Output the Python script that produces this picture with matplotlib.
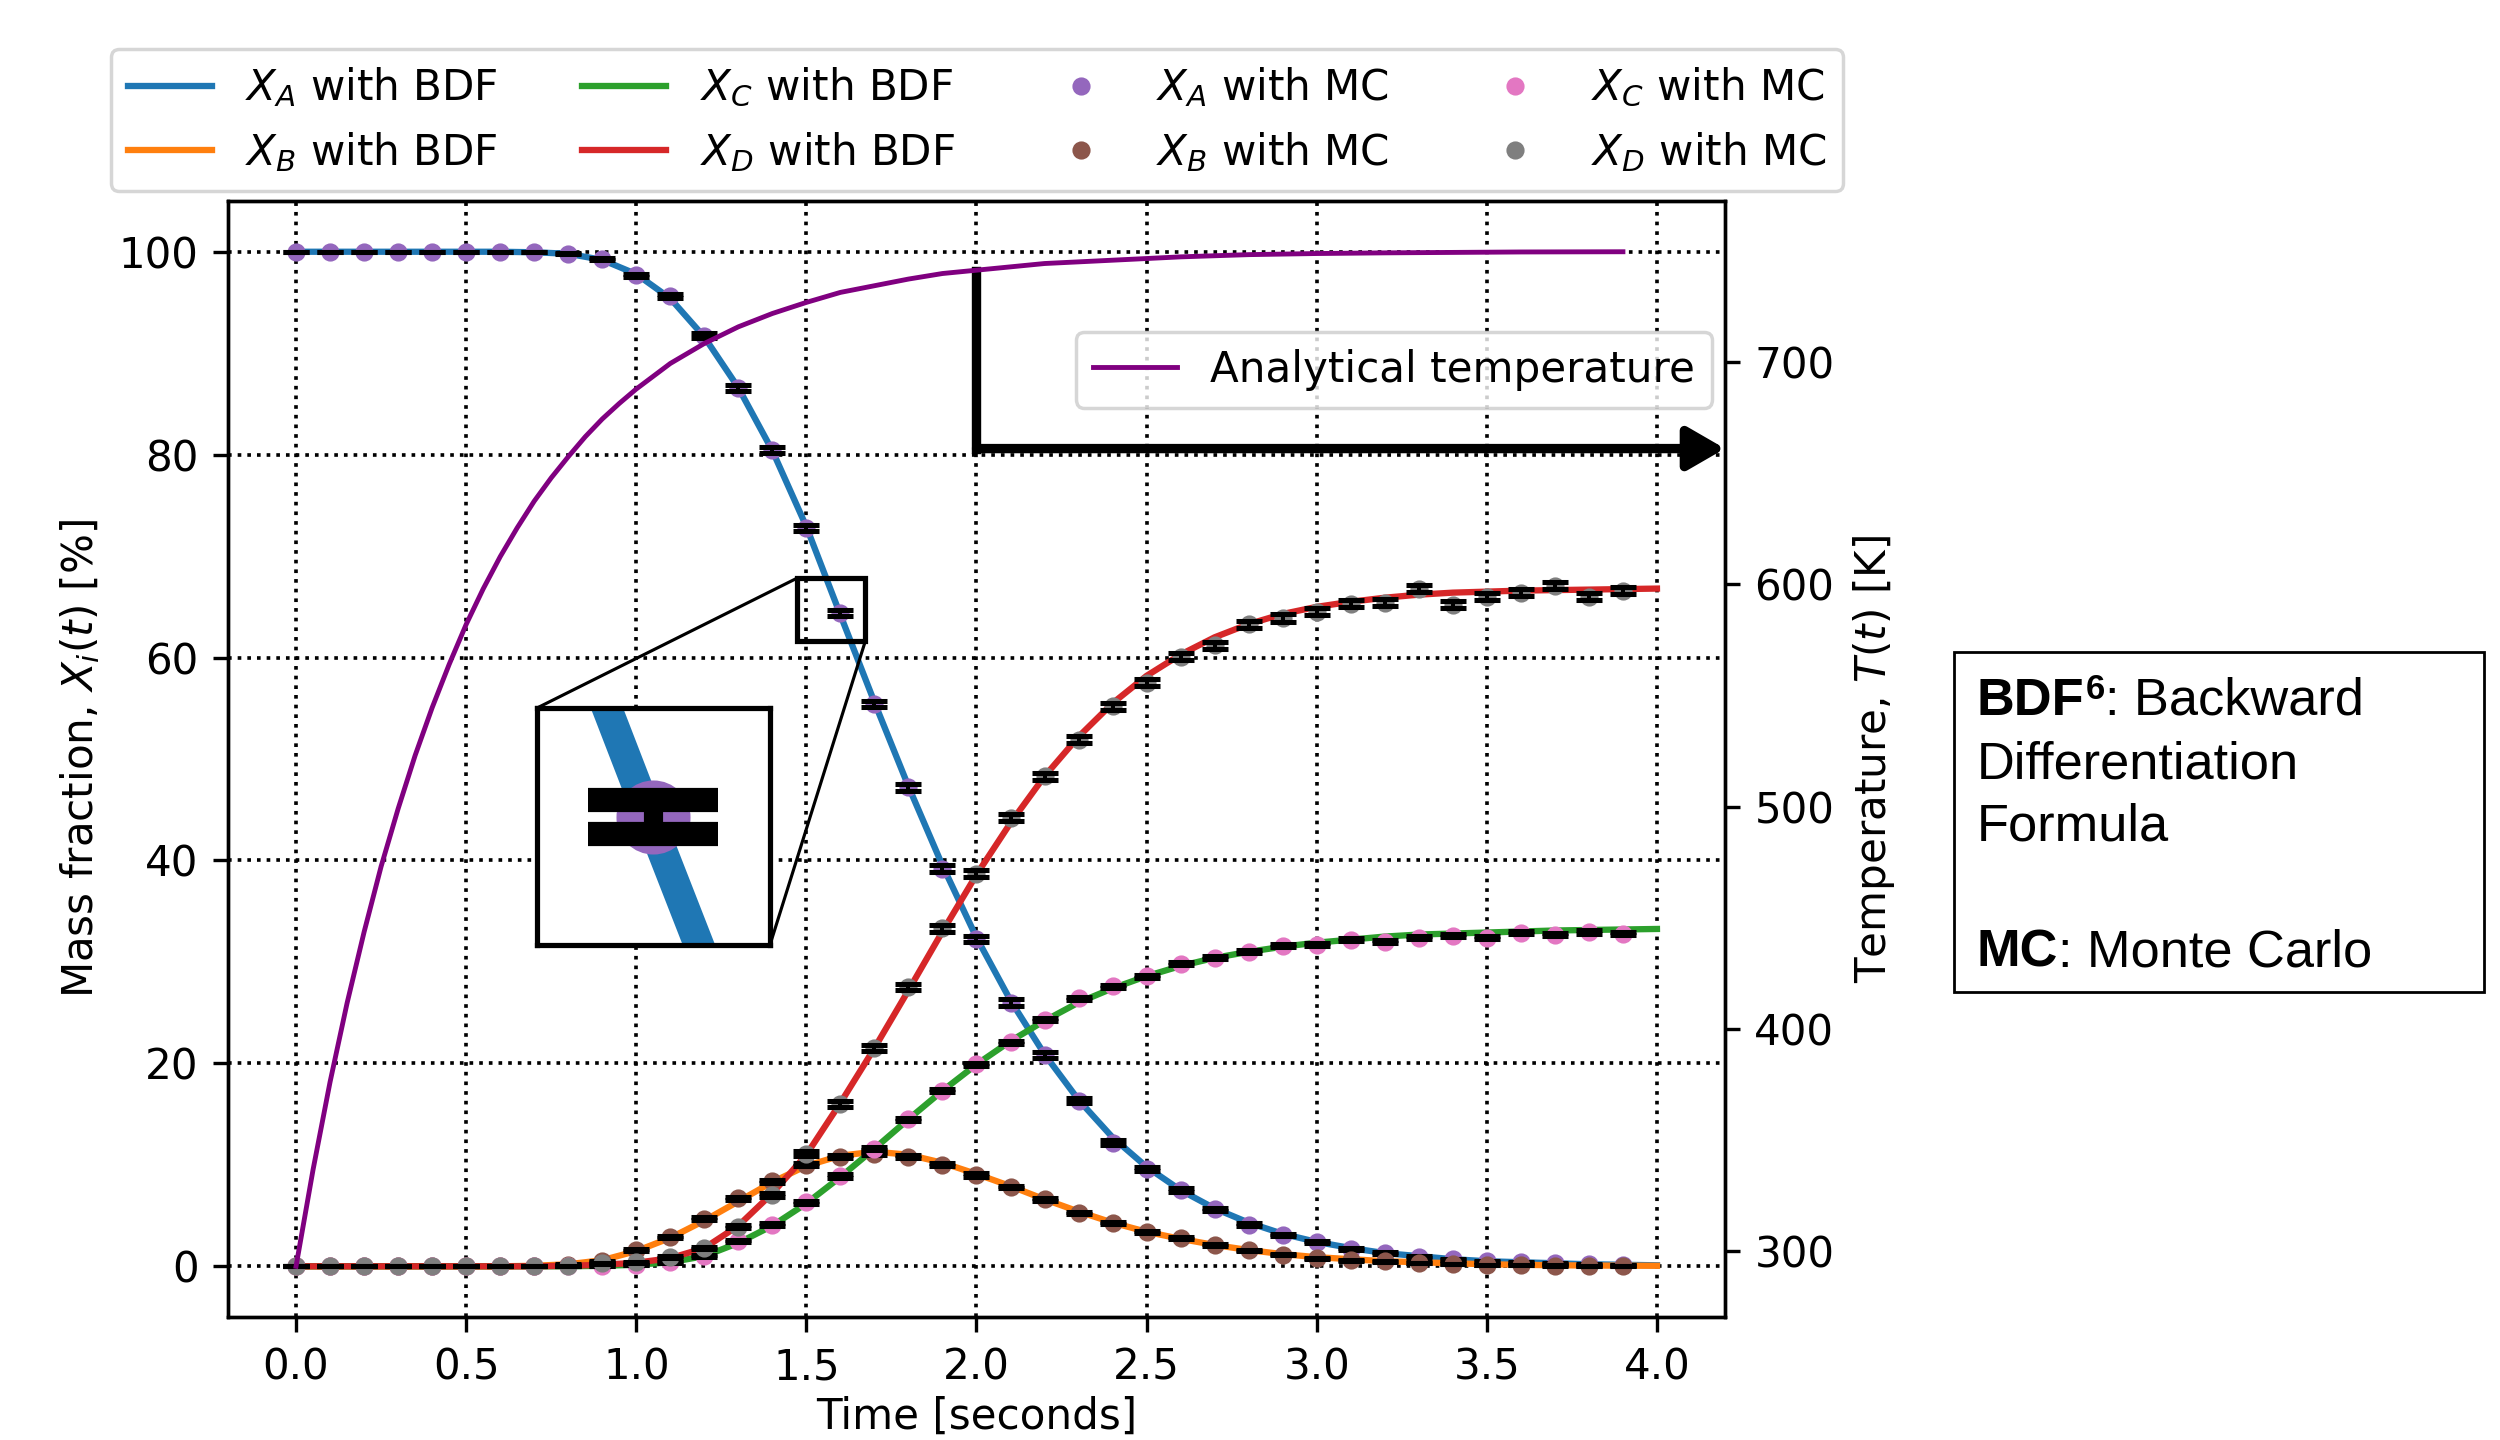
import matplotlib

matplotlib.use("Agg")
import matplotlib.pyplot as plt
from matplotlib.patches import Rectangle, ConnectionPatch

# the reference was drawn at roughly 1.21x the default sizes for dpi=250
K = 1.21
plt.rcParams.update({
    "font.size": 10 * K,
    "axes.linewidth": 0.8 * K,
    "xtick.major.size": 3.5 * K,
    "ytick.major.size": 3.5 * K,
    "xtick.major.width": 0.8 * K,
    "ytick.major.width": 0.8 * K,
    "xtick.major.pad": 3.5 * K,
    "ytick.major.pad": 3.5 * K,
    "axes.labelpad": 4.0 * K,
    "lines.linewidth": 1.5 * K,
    "legend.framealpha": 0.8,
})

# ---- data ----
t_bdf = [round(0.1 * i, 1) for i in range(41)]
t_mc = [round(0.1 * i, 1) for i in range(40)]

xa_bdf = [100, 100, 100, 100, 100, 100, 100, 99.95, 99.8, 99.2,
          97.8, 95.4, 91.6, 86.6, 80.4, 72.9, 64.2, 55.6, 47.3, 39.5,
          32.4, 26.2, 20.9, 16.4, 12.7, 9.8, 7.5, 5.7, 4.3, 3.2,
          2.4, 1.8, 1.3, 1.0, 0.7, 0.5, 0.4, 0.3, 0.2, 0.15, 0.1]
xb_bdf = [0, 0, 0, 0, 0, 0, 0, 0.05, 0.2, 0.6,
          1.5, 2.8, 4.5, 6.4, 8.3, 9.9, 10.9, 11.3, 11.0, 10.2,
          9.1, 7.9, 6.6, 5.4, 4.3, 3.4, 2.7, 2.1, 1.6, 1.2,
          0.9, 0.7, 0.5, 0.4, 0.3, 0.2, 0.15, 0.1, 0.08, 0.06, 0.05]
xc_bdf = [0, 0, 0, 0, 0, 0, 0, 0, 0, 0.05,
          0.15, 0.4, 1.0, 2.3, 4.0, 6.2, 8.8, 11.6, 14.5, 17.3,
          19.9, 22.2, 24.2, 26.0, 27.4, 28.6, 29.6, 30.4, 31.0, 31.5,
          31.9, 32.2, 32.5, 32.7, 32.8, 32.9, 33.0, 33.1, 33.15, 33.2, 33.25]
xd_bdf = [0, 0, 0, 0, 0, 0, 0, 0, 0.05, 0.15,
          0.35, 0.8, 1.8, 4.0, 7.2, 11.0, 16.1, 21.5, 27.2, 33.0,
          38.6, 43.7, 48.3, 52.2, 55.5, 58.2, 60.3, 62.0, 63.3, 64.3,
          65.0, 65.5, 65.9, 66.2, 66.4, 66.5, 66.6, 66.65, 66.7, 66.75, 66.8]

xa_mc = [100, 100, 100, 100, 100, 100, 100, 100, 99.8, 99.3,
         97.7, 95.6, 91.7, 86.6, 80.5, 72.8, 64.4, 55.4, 47.2, 39.2,
         32.3, 26.0, 20.8, 16.3, 12.2, 9.6, 7.5, 5.6, 4.1, 3.1,
         2.4, 1.7, 1.3, 0.9, 0.7, 0.5, 0.4, 0.3, 0.2, 0.1]
xb_mc = [0, 0, 0, 0, 0, 0, 0, 0, 0.15, 0.5,
         1.6, 2.9, 4.7, 6.7, 8.4, 10.0, 10.8, 11.1, 10.8, 10.0,
         9.0, 7.8, 6.6, 5.3, 4.3, 3.4, 2.8, 2.1, 1.6, 1.15,
         0.8, 0.6, 0.5, 0.35, 0.25, 0.15, 0.1, 0.07, 0.05, 0.03]
xc_mc = [0, 0, 0, 0, 0, 0, 0, 0, 0, 0,
         0.1, 0.4, 1.0, 2.5, 4.1, 6.3, 8.9, 11.6, 14.5, 17.3,
         19.9, 22.1, 24.3, 26.4, 27.6, 28.6, 29.8, 30.4, 31.0, 31.6,
         31.7, 32.2, 32.0, 32.4, 32.6, 32.4, 32.9, 32.7, 32.95, 32.8]
xd_mc = [0, 0, 0, 0, 0, 0, 0, 0, 0, 0.3,
         0.4, 0.9, 1.8, 3.9, 7.0, 11.1, 16.0, 21.5, 27.5, 33.3,
         38.7, 44.2, 48.3, 51.9, 55.2, 57.5, 60.1, 61.2, 63.3, 63.9,
         64.5, 65.3, 65.4, 66.8, 65.2, 66.0, 66.4, 67.1, 66.0, 66.6]

# half widths of the MC error bars
xa_err = [0, 0, 0, 0, 0, 0, 0, 0, 0.05, 0.1,
          0.15, 0.2, 0.25, 0.3, 0.3, 0.3, 0.3, 0.3, 0.35, 0.35,
          0.3, 0.3, 0.3, 0.25, 0.25, 0.2, 0.2, 0.15, 0.15, 0.1,
          0.1, 0.1, 0.08, 0.07, 0.06, 0.05, 0.04, 0.03, 0.03, 0.02]
xb_err = [0, 0, 0, 0, 0, 0, 0, 0, 0.03, 0.05,
          0.08, 0.1, 0.12, 0.15, 0.15, 0.15, 0.15, 0.15, 0.15, 0.15,
          0.15, 0.12, 0.12, 0.1, 0.1, 0.08, 0.08, 0.06, 0.05, 0.05,
          0.04, 0.03, 0.03, 0.02, 0.02, 0.02, 0.01, 0.01, 0.01, 0.01]
xc_err = [0, 0, 0, 0, 0, 0, 0, 0, 0, 0,
          0.02, 0.05, 0.08, 0.1, 0.12, 0.15, 0.15, 0.15, 0.15, 0.15,
          0.15, 0.15, 0.15, 0.15, 0.15, 0.15, 0.15, 0.15, 0.15, 0.15,
          0.15, 0.15, 0.15, 0.15, 0.15, 0.15, 0.15, 0.15, 0.15, 0.15]
xd_err = [0, 0, 0, 0, 0, 0, 0, 0, 0, 0.05,
          0.05, 0.1, 0.12, 0.15, 0.2, 0.25, 0.25, 0.3, 0.3, 0.35,
          0.35, 0.35, 0.35, 0.35, 0.35, 0.35, 0.35, 0.35, 0.35, 0.35,
          0.35, 0.35, 0.35, 0.35, 0.35, 0.35, 0.35, 0.35, 0.35, 0.35]

t_temp = [0.0, 0.05, 0.1, 0.15, 0.2, 0.25, 0.3, 0.35, 0.4, 0.45,
          0.5, 0.55, 0.6, 0.65, 0.7, 0.75, 0.8, 0.85, 0.9, 0.95,
          1.0, 1.1, 1.2, 1.3, 1.4, 1.5, 1.6, 1.7, 1.8, 1.9,
          2.0, 2.2, 2.4, 2.6, 2.8, 3.0, 3.2, 3.4, 3.6, 3.9]
temp = [293, 336.5, 376, 411.5, 443.5, 473, 499, 523, 544.5, 564,
        582, 598, 612.5, 625.5, 637.5, 648, 657.5, 666.5, 674.5, 681.5,
        688, 699.5, 708.5, 716, 722, 727, 731.5, 734.5, 737.5, 740,
        741.5, 744.5, 746, 747.5, 748.5, 749, 749.3, 749.5, 749.7, 749.8]

species = ["A", "B", "C", "D"]
bdf = [xa_bdf, xb_bdf, xc_bdf, xd_bdf]
mc = [xa_mc, xb_mc, xc_mc, xd_mc]
errs = [xa_err, xb_err, xc_err, xd_err]
line_colors = ["tab:blue", "tab:orange", "tab:green", "tab:red"]
mc_colors = ["tab:purple", "tab:brown", "tab:pink", "tab:gray"]


def draw_series(axis, scale=1.0):
    lines, dots = [], []
    for s, y, c in zip(species, bdf, line_colors):
        (ln,) = axis.plot(t_bdf, y, color=c, lw=1.5 * K * scale,
                          label=f"$X_{s}$ with BDF")
        lines.append(ln)
    for s, y, e, c in zip(species, mc, errs, mc_colors):
        (dt,) = axis.plot(t_mc, y, "o", color=c, ms=3.5 * K * scale,
                          label=f"$X_{s}$ with MC")
        dots.append(dt)
        axis.errorbar(t_mc, y, yerr=e, fmt="none", ecolor="k",
                      elinewidth=0.95 * K * scale, capsize=3.2 * K * scale,
                      capthick=1.2 * K * scale)
    return lines + dots


fig = plt.figure(figsize=(10, 5.76), dpi=250)
ax = fig.add_axes([0.0912, 0.0854, 0.5988, 0.775])

handles = draw_series(ax)
ax.grid(True, linestyle=":", color="k", linewidth=1.05)
ax.set_xticks([0.0, 0.5, 1.0, 1.5, 2.0, 2.5, 3.0, 3.5, 4.0])
ax.set_yticks([0, 20, 40, 60, 80, 100])
ax.set_xlabel("Time [seconds]", labelpad=2.0)
ax.set_ylabel("Mass fraction, $X_i(t)$ [%]")

ax2 = ax.twinx()
ax2.plot(t_temp, temp, color="purple", lw=1.4, label="Analytical temperature")
ax2.set_yticks([300, 400, 500, 600, 700])
ax2.set_ylabel("Temperature, $T(t)$ [K]")
ax2.legend(loc="upper right", bbox_to_anchor=(0.9913, 0.8826),
           borderaxespad=0)

# legend for the mass fractions, two rows above the axes
fig.legend(handles, [h.get_label() for h in handles],
           ncol=4, loc="lower center", bbox_to_anchor=(0.3908, 0.8674),
           borderaxespad=0)

# arrow pointing from the temperature curve to the right axis
ax.plot([2.0, 2.0], [98.1, 80.6], color="k", lw=2.7,
        solid_capstyle="projecting")
ax.annotate("", xy=(1.0, 80.6), xycoords=("axes fraction", "data"),
            xytext=(2.0, 80.6), textcoords="data", annotation_clip=False,
            arrowprops=dict(arrowstyle="-|>,head_length=0.45,head_width=0.26",
                            mutation_scale=20, lw=2.7, color="k",
                            shrinkA=0, shrinkB=0))

# zoomed inset
axins = ax.inset_axes([0.2064, 0.3333, 0.1556, 0.2124])
draw_series(axins, scale=4.8)
axins.set_xlim(1.539, 1.661)
axins.set_ylim(62.15, 66.32)
axins.set_xticks([])
axins.set_yticks([])
for sp in axins.spines.values():
    sp.set_linewidth(1.5)

ax.add_patch(Rectangle((1.471, 61.6), 0.202, 6.2, fill=False,
                       edgecolor="k", lw=1.5, zorder=5))
for xy_main, xy_ins in [((1.471, 67.8), (0, 1)), ((1.673, 61.6), (1, 0))]:
    con = ConnectionPatch(xyA=xy_main, coordsA=ax.transData,
                          xyB=xy_ins, coordsB=axins.transAxes,
                          color="k", lw=0.9, zorder=5)
    fig.add_artist(con)

# abbreviation box on the right
fig.add_artist(Rectangle((0.7816, 0.3111), 0.212, 0.2361, fill=False,
                         edgecolor="k", lw=0.8, transform=fig.transFigure))
box_font = dict(family="Liberation Sans", fontsize=15.1)
x0 = 0.7908
t1 = fig.text(x0, 0.5035, "BDF", weight="bold", va="baseline", **box_font)
sup = ax.annotate("6", xy=(1, 1), xycoords=t1, xytext=(0.4, 1.2),
                  textcoords="offset points", va="top", ha="left",
                  weight="bold", family="Liberation Sans", fontsize=10)
ax.annotate(": Backward", xy=(1, 0), xycoords=(sup, t1), va="bottom",
            ha="left", **box_font)
fig.text(x0, 0.4597, "Differentiation", va="baseline", **box_font)
fig.text(x0, 0.4160, "Formula", va="baseline", **box_font)
t2 = fig.text(x0, 0.3285, "MC", weight="bold", va="baseline", **box_font)
ax.annotate(": Monte Carlo", xy=(1, 0), xycoords=t2, va="bottom",
            ha="left", **box_font)

fig.savefig("out.png", dpi=250)
